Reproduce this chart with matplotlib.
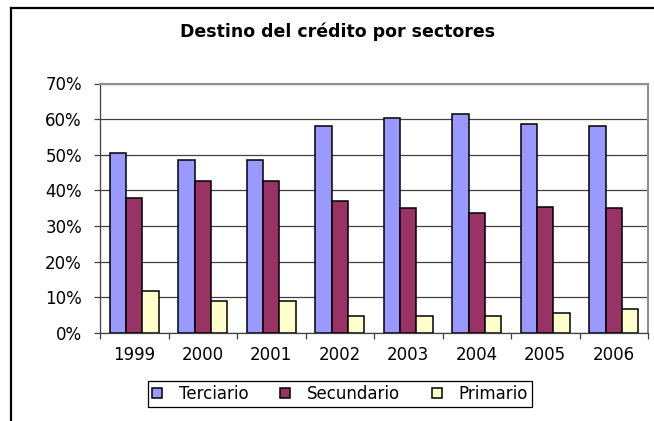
import matplotlib.pyplot as plt
import numpy as np
from matplotlib.lines import Line2D
from matplotlib.ticker import PercentFormatter, FixedLocator

# the source chart is stretched sideways, so a wide face fits it best
plt.rcParams['font.family'] = ['DejaVu Sans']

# Data (percent)
years = ['1999', '2000', '2001', '2002', '2003', '2004', '2005', '2006']
terciario = [50.4, 48.5, 48.5, 58.2, 60.2, 61.5, 58.6, 58.2]
secundario = [37.9, 42.7, 42.7, 37.0, 35.0, 33.7, 35.4, 35.0]
primario = [11.8, 9.0, 9.0, 4.8, 4.8, 4.8, 5.6, 6.8]

series_names = ['Terciario', 'Secundario', 'Primario']
series_colors = ['#9999FF', '#993366', '#FFFFCC']

W, H = 654, 421
fig = plt.figure(figsize=(W / 100, H / 100), dpi=100)
ax = fig.add_axes([100 / W, 1 - 333 / H, 548 / W, (333 - 83.5) / H])

x = np.arange(len(years))
bw = 0.24
for i, (vals, name, col) in enumerate(zip([terciario, secundario, primario],
                                           series_names, series_colors)):
    ax.bar(x + (i - 1) * bw, vals, width=bw, color=col, edgecolor='black',
           linewidth=1.1, label=name, zorder=3)

ax.set_xlim(-0.5, len(years) - 0.5)
ax.set_ylim(0, 70)
ax.set_yticks(np.arange(0, 71, 10))
ax.yaxis.set_major_formatter(PercentFormatter(100, decimals=0))
ax.yaxis.grid(True, color='#404040', linewidth=0.9, zorder=0)

ax.set_xticks(x)
ax.set_xticklabels(years)
ax.xaxis.set_minor_locator(FixedLocator(np.arange(-0.5, len(years), 1.0)))
ax.tick_params(axis='x', which='major', length=0, pad=9, labelsize=12)
ax.tick_params(axis='x', which='minor', length=4, width=0.9, color='#404040', direction='out')
ax.tick_params(axis='y', length=4, width=0.9, color='#404040', pad=9, labelsize=12)

for side in ['top', 'right']:
    ax.spines[side].set_color('#909090')
    ax.spines[side].set_linewidth(1.5)
for side in ['left', 'bottom']:
    ax.spines[side].set_color('#404040')
    ax.spines[side].set_linewidth(0.9)

fig.text(338 / W, 1 - 32 / H, 'Destino del crédito por sectores',
         ha='center', va='center', fontsize=12.5, fontweight='bold')

leg = fig.legend(loc='center', bbox_to_anchor=(340 / W, 1 - 394 / H), ncol=3,
                 fontsize=12, frameon=True, fancybox=False, framealpha=1,
                 edgecolor='black', handlelength=0.6, handleheight=0.6,
                 handletextpad=1.0, columnspacing=1.9, borderpad=0.25,
                 borderaxespad=0)
leg.get_frame().set_linewidth(0.9)

# outer chart frame (cut off at right and bottom)
fig.add_artist(Line2D([11 / W, 1], [1 - 8 / H, 1 - 8 / H], color='black', linewidth=1.6))
fig.add_artist(Line2D([11 / W, 11 / W], [0, 1 - 8 / H], color='black', linewidth=1.6))

fig.savefig('out.png', dpi=100)
